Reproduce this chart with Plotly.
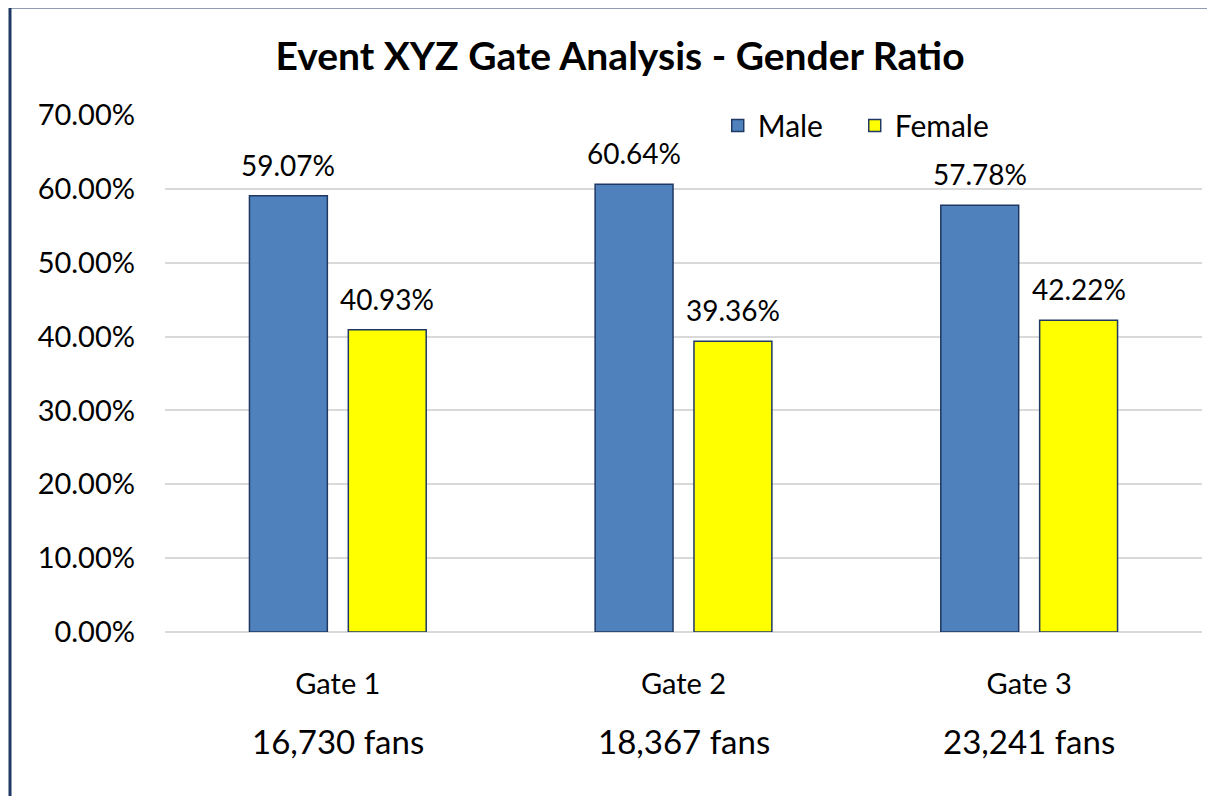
import plotly.graph_objects as go

gates = ["Gate 1", "Gate 2", "Gate 3"]
fans = [16730, 18367, 23241]
male = [0.5907, 0.6064, 0.5778]
female = [0.4093, 0.3936, 0.4222]
y_ticks = [0.0, 0.1, 0.2, 0.3, 0.4, 0.5, 0.6, 0.7]

FONT = "Lato, Calibri, Carlito, sans-serif"
OUTLINE = "#1F3864"

fig = go.Figure()
fig.add_trace(go.Bar(
    x=gates, y=male, name="Male",
    marker=dict(color="#4F81BD", line=dict(color=OUTLINE, width=1.5)),
))
fig.add_trace(go.Bar(
    x=gates, y=female, name="Female",
    marker=dict(color="#FFFF00", line=dict(color=OUTLINE, width=1.5)),
))

# data labels above each bar (offset left/right to sit over the grouped bars)
for series, shift in ((male, -49.5), (female, 49.5)):
    for g, v in zip(gates, series):
        fig.add_annotation(
            x=g, y=v, xref="x", yref="y", xshift=shift, yshift=31,
            text=f"{v:.2%}", showarrow=False, yanchor="middle",
            font=dict(size=28, color="black", family=FONT),
        )

# fan counts under each gate label
for g, n in zip(gates, fans):
    fig.add_annotation(
        x=g, xref="x", y=-0.21, yref="paper", yanchor="middle",
        text=f"{n:,} fans", showarrow=False,
        font=dict(size=33, color="black", family=FONT),
    )

# page body adds an 8px offset, so compensate in the margins
OFF = 8
W, H = 1215, 796
L, R, T, B = 165, 13, 115, 164
pw, ph = W - L - R, H - T - B

# chart border (Excel style frame)
fig.add_shape(
    type="rect", xref="paper", yref="paper",
    x0=(10 - L) / pw, x1=(W + 20 - L) / pw,
    y0=-(H + 20 - T - ph) / ph, y1=(H - B - 7) / ph,
    line=dict(color="#203864", width=3), fillcolor="rgba(0,0,0,0)",
)

fig.update_layout(
    width=W, height=H,
    margin=dict(l=L - OFF, r=R + OFF, t=T - OFF, b=B + OFF, autoexpand=False),
    paper_bgcolor="white", plot_bgcolor="white",
    barmode="group", bargap=0.428, bargroupgap=0.212,
    font=dict(family=FONT, color="black"),
    title=dict(
        text="<b>Event XYZ Gate Analysis - Gender Ratio</b>",
        x=(620 - OFF) / W, xanchor="center", xref="container",
        y=1 - (56 - OFF) / H, yanchor="middle", yref="container",
        font=dict(size=39, color="black", family=FONT),
    ),
    legend=dict(
        orientation="h", x=0.533, y=1.03, xanchor="left", yanchor="top",
        font=dict(size=30, color="black", family=FONT),
        bgcolor="rgba(0,0,0,0)", itemwidth=30, traceorder="normal",
        entrywidth=92,
    ),
    showlegend=True,
    xaxis=dict(
        showline=False, showgrid=False, ticks="", automargin=False,
        tickfont=dict(size=29, color="black", family=FONT),
        ticklabelstandoff=32,
    ),
    yaxis=dict(
        range=[0, 0.7], tickvals=y_ticks, tickformat=".2%", automargin=False,
        showgrid=True, gridcolor="#D9D9D9", gridwidth=2,
        zeroline=True, zerolinecolor="#D9D9D9", zerolinewidth=2,
        showline=False, ticks="",
        tickfont=dict(size=29, color="black", family=FONT),
        ticklabelstandoff=29,
    ),
)

fig.write_html("out.html")
